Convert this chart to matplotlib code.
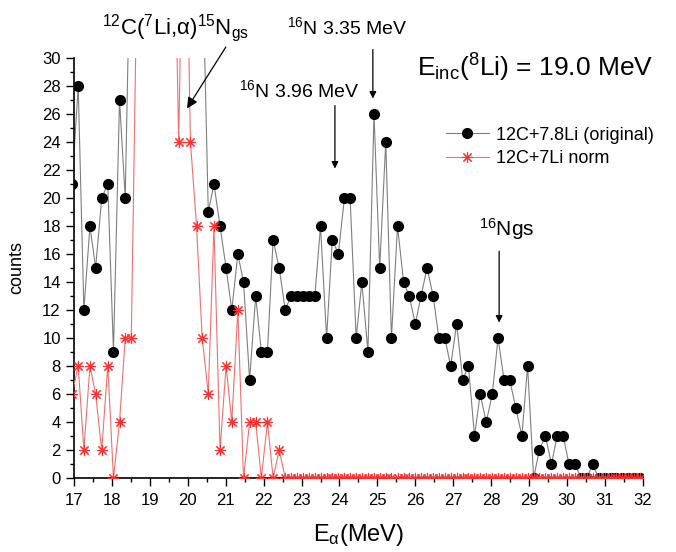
import matplotlib.pyplot as plt
from matplotlib.ticker import MultipleLocator

plt.rcParams['font.family'] = ['Liberation Sans', 'DejaVu Sans']
plt.rcParams['mathtext.fontset'] = 'custom'
plt.rcParams['mathtext.rm'] = 'Liberation Sans'
plt.rcParams['mathtext.it'] = 'Liberation Sans'

# energie alpha (MeV), pas ~0.156 MeV
energy = [16.95, 17.11, 17.26, 17.42, 17.57, 17.73, 17.89, 18.04, 18.20, 18.35,
          18.51, 18.67, 18.82, 18.98, 19.13, 19.29, 19.45, 19.60, 19.76, 19.91,
          20.07, 20.23, 20.38, 20.54, 20.69, 20.85, 21.01, 21.16, 21.32, 21.47,
          21.63, 21.79, 21.94, 22.10, 22.25, 22.41, 22.57, 22.72, 22.88, 23.03,
          23.19, 23.35, 23.50, 23.66, 23.81, 23.97, 24.13, 24.28, 24.44, 24.59,
          24.75, 24.91, 25.06, 25.22, 25.37, 25.53, 25.69, 25.84, 26.00, 26.15,
          26.31, 26.47, 26.62, 26.78, 26.93, 27.09, 27.25, 27.40, 27.56, 27.71,
          27.87, 28.03, 28.18, 28.34, 28.49, 28.65, 28.81, 28.96, 29.12, 29.27,
          29.43, 29.59, 29.74, 29.90, 30.05, 30.21, 30.37, 30.52, 30.68, 30.83,
          30.99, 31.15, 31.30, 31.46, 31.61, 31.77, 31.93]

# 12C+7.8Li (original) -- le pic 15Ngs sort du cadre (valeurs > 30 estimees)
counts_orig = [21, 28, 12, 18, 15, 20, 21, 9, 27, 20,
               42, 70, 120, 180, 200, 160, 120, 90, 80, 70,
               60, 50, 38, 19, 21, 18, 15, 12, 16, 14,
               7, 13, 9, 9, 17, 15, 12, 13, 13, 13,
               13, 13, 18, 10, 17, 16, 20, 20, 10, 14,
               9, 26, 15, 24, 10, 18, 14, 13, 11, 13,
               15, 13, 10, 10, 8, 11, 7, 8, 3, 6,
               4, 6, 10, 7, 7, 5, 3, 8, 0, 2,
               3, 1, 3, 3, 1, 1, 0, 0, 1, 0,
               0, 0, 0, 0, 0, 0, 0]

# 12C+7Li norm
counts_norm = [6, 8, 2, 8, 6, 2, 8, 0, 4, 10,
               10, 38, 90, 150, 180, 120, 80, 47, 24, 48,
               24, 18, 10, 6, 18, 2, 8, 4, 12, 0,
               4, 4, 0, 4, 0, 2, 0, 0, 0, 0,
               0, 0, 0, 0, 0, 0, 0, 0, 0, 0,
               0, 0, 0, 0, 0, 0, 0, 0, 0, 0,
               0, 0, 0, 0, 0, 0, 0, 0, 0, 0,
               0, 0, 0, 0, 0, 0, 0, 0, 0, 0,
               0, 0, 0, 0, 0, 0, 0, 0, 0, 0,
               0, 0, 0, 0, 0, 0, 0]

fig = plt.figure(figsize=(6.76, 5.52), dpi=100)
ax = fig.add_axes([0.1095, 0.134, 0.8415, 0.761])

ax.plot(energy, counts_orig, color='#7f7f7f', lw=0.8, marker='o', ms=7,
        mfc='black', mec='black', label='12C+7.8Li (original)', zorder=2)
ax.plot(energy, counts_norm, color='#f07070', lw=0.8, marker=(8, 2, 0), ms=8,
        mec='#ff3030', mew=0.8, label='12C+7Li norm', zorder=3)

ax.set_xlim(17, 32)
ax.set_ylim(0, 30)
ax.xaxis.set_major_locator(MultipleLocator(1))
ax.xaxis.set_minor_locator(MultipleLocator(0.5))
ax.yaxis.set_major_locator(MultipleLocator(2))
ax.yaxis.set_minor_locator(MultipleLocator(1))
ax.tick_params(which='major', length=6, width=1, labelsize=12)
ax.tick_params(axis='x', pad=5)
ax.tick_params(which='minor', length=3, width=1)
for s in ['top', 'right']:
    ax.spines[s].set_visible(False)
for s in ['left', 'bottom']:
    ax.spines[s].set_linewidth(1.2)

ax.set_ylabel('counts', fontsize=13, labelpad=12)
ax.set_xlabel(r'E$_\alpha$(MeV)', fontsize=17, labelpad=10)

leg = ax.legend(loc='upper left', bbox_to_anchor=(0.625, 0.875), frameon=False,
                fontsize=13, handlelength=2.4, handletextpad=0.4, labelspacing=0.35)

# annotations
ax.annotate(r'$^{12}$C($^7$Li,$\alpha$)$^{15}$N$_{gs}$', xy=(19.98, 26.4), xytext=(17.75, 31.7),
            fontsize=16, annotation_clip=False,
            arrowprops=dict(arrowstyle='-|>', color='black', lw=0.9, shrinkA=0, shrinkB=0,
                            relpos=(0.85, 0.0)))
ax.text(24.2, 32.2, r'$^{16}$N 3.35 MeV', fontsize=14, ha='center', va='center')
ax.annotate('', xy=(24.88, 27.1), xytext=(24.88, 30.6), annotation_clip=False,
            arrowprops=dict(arrowstyle='-|>', color='black', lw=0.9, shrinkA=0, shrinkB=0))
ax.text(22.95, 27.7, r'$^{16}$N 3.96 MeV', fontsize=14, ha='center', va='center')
ax.annotate('', xy=(23.88, 22.1), xytext=(23.88, 26.6),
            arrowprops=dict(arrowstyle='-|>', color='black', lw=0.9, shrinkA=0, shrinkB=0))
ax.text(28.42, 17.8, r'$^{16}$Ngs', fontsize=15, ha='center', va='center')
ax.annotate('', xy=(28.21, 11.1), xytext=(28.21, 16.2),
            arrowprops=dict(arrowstyle='-|>', color='black', lw=0.9, shrinkA=0, shrinkB=0))
ax.text(29.15, 29.3, r'E$_{inc}$($^8$Li) = 19.0 MeV', fontsize=19, ha='center', va='center')

fig.savefig('out.png', dpi=100)
